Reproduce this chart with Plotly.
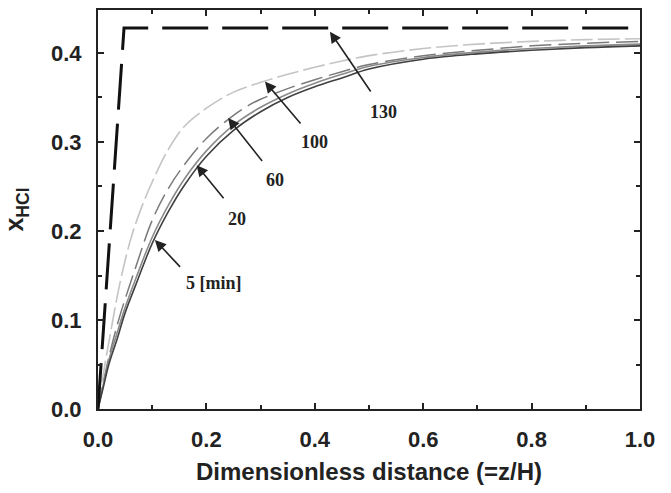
import plotly.graph_objects as go

# Dimensionless distance (z/H) and HCl mole fraction profiles at several times
x_5 = [0, 0.01, 0.02, 0.035, 0.05, 0.07, 0.1, 0.13, 0.16, 0.2, 0.25, 0.3, 0.35, 0.4, 0.45, 0.5, 0.6, 0.7, 0.8, 0.9, 1.0]
y_5 = [0, 0.025, 0.05, 0.078, 0.108, 0.14, 0.186, 0.222, 0.252, 0.284, 0.313, 0.334, 0.350, 0.362, 0.372, 0.382, 0.393, 0.399, 0.403, 0.406, 0.408]

x_20 = [0, 0.01, 0.02, 0.035, 0.05, 0.07, 0.1, 0.13, 0.16, 0.2, 0.25, 0.3, 0.35, 0.4, 0.45, 0.5, 0.6, 0.7, 0.8, 0.9, 1.0]
y_20 = [0, 0.028, 0.055, 0.085, 0.114, 0.147, 0.193, 0.229, 0.259, 0.290, 0.319, 0.339, 0.354, 0.366, 0.376, 0.385, 0.395, 0.401, 0.405, 0.408, 0.410]

x_60 = [0, 0.01, 0.02, 0.04, 0.07, 0.1, 0.13, 0.16, 0.2, 0.25, 0.28, 0.3, 0.35, 0.4, 0.45, 0.5, 0.6, 0.7, 0.8, 0.9, 1.0]
y_60 = [0, 0.03, 0.058, 0.104, 0.16, 0.212, 0.248, 0.275, 0.304, 0.330, 0.342, 0.348, 0.360, 0.370, 0.379, 0.387, 0.397, 0.403, 0.408, 0.411, 0.413]

x_100 = [0, 0.01, 0.02, 0.04, 0.06, 0.08, 0.1, 0.13, 0.16, 0.2, 0.25, 0.3, 0.35, 0.4, 0.45, 0.5, 0.6, 0.7, 0.8, 0.9, 1.0]
y_100 = [0, 0.04, 0.075, 0.14, 0.19, 0.226, 0.255, 0.292, 0.318, 0.338, 0.356, 0.367, 0.376, 0.384, 0.391, 0.397, 0.405, 0.410, 0.413, 0.415, 0.416]

x_130 = [0, 0.048, 1.0]
y_130 = [0, 0.428, 0.428]

# Labels: text position, arrow tail, arrow head (data coordinates)
labels = ["5 [min]", "20", "60", "100", "130"]
label_xy = [(0.214, 0.142), (0.256, 0.214), (0.327, 0.257), (0.400, 0.300), (0.526, 0.334)]
arrow_tail = [(0.154, 0.158), (0.234, 0.235), (0.305, 0.277), (0.376, 0.319), (0.505, 0.355)]
arrow_head = [(0.105, 0.190), (0.182, 0.274), (0.240, 0.327), (0.308, 0.368), (0.428, 0.424)]

x_ticks = [0.0, 0.2, 0.4, 0.6, 0.8, 1.0]
y_ticks = [0.0, 0.1, 0.2, 0.3, 0.4]

fig = go.Figure()
fig.add_trace(go.Scatter(x=x_100, y=y_100, mode="lines", line=dict(color="#c4c4c4", width=1.6, dash="22px,5px"), line_shape="spline"))
fig.add_trace(go.Scatter(x=x_60, y=y_60, mode="lines", line=dict(color="#7a7a7a", width=1.5, dash="22px,7px"), line_shape="spline"))
fig.add_trace(go.Scatter(x=x_20, y=y_20, mode="lines", line=dict(color="#8a8a8a", width=1.6), line_shape="spline"))
fig.add_trace(go.Scatter(x=x_5, y=y_5, mode="lines", line=dict(color="#404040", width=1.6), line_shape="spline"))
fig.add_trace(go.Scatter(x=x_130, y=y_130, mode="lines", line=dict(color="#111111", width=3, dash="46px,14px")))

for t, (tx, ty), (ax_, ay_), (hx, hy) in zip(labels, label_xy, arrow_tail, arrow_head):
    fig.add_annotation(x=hx, y=hy, ax=ax_, ay=ay_, axref="x", ayref="y", xref="x", yref="y",
                       text="", showarrow=True, arrowhead=2, arrowsize=1.4, arrowwidth=1.6, arrowcolor="#222")
    fig.add_annotation(x=tx, y=ty, xref="x", yref="y", text=t, showarrow=False,
                       font=dict(family="Liberation Serif", size=18, color="#222", weight="bold"))

axis_common = dict(showline=True, linecolor="#222", linewidth=2, mirror="ticks", ticks="inside",
                   tickcolor="#222", tickwidth=1.5, ticklen=6, showgrid=False, zeroline=False,
                   tickfont=dict(family="Liberation Sans", size=22, color="#222", weight="bold"))

fig.update_xaxes(range=[0, 1.0], tickvals=x_ticks, ticktext=[f"{v:.1f}" for v in x_ticks],
                 minor=dict(ticks="inside", tickvals=[0.1, 0.3, 0.5, 0.7, 0.9], ticklen=4, tickcolor="#222", tickwidth=1.5),
                 title=dict(text="Dimensionless distance (=z/H)", standoff=12,
                            font=dict(family="Liberation Sans", size=24, color="#222", weight="bold")),
                 ticklabelstandoff=10, **axis_common)
fig.update_yaxes(range=[0, 0.4483], tickvals=y_ticks, ticktext=[f"{v:.1f}" for v in y_ticks],
                 minor=dict(ticks="inside", tickvals=[0.05, 0.15, 0.25, 0.35], ticklen=4, tickcolor="#222", tickwidth=1.5),
                 title=dict(text="x<sub>HCl</sub>", standoff=20,
                            font=dict(family="Liberation Sans", size=25, color="#222", weight="bold")),
                 ticklabelstandoff=10, **axis_common)

fig.update_layout(width=671, height=493, margin=dict(l=98, r=31, t=10, b=84, autoexpand=False),
                  paper_bgcolor="white", plot_bgcolor="white", showlegend=False)
fig.write_html("out.html")
